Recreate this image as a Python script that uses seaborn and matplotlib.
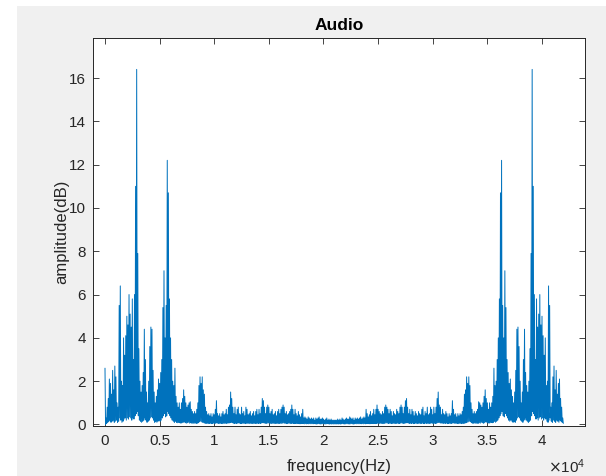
import numpy as np
import pandas as pd
import matplotlib
matplotlib.use("Agg")
import matplotlib.pyplot as plt
import seaborn as sns
from matplotlib.ticker import FuncFormatter
from matplotlib.patches import Rectangle

# ---- data: magnitude spectrum, 100 Hz bins from 0 to 21000 Hz (first half) ----
bin_hz = 100
peak_half = [
    2.6, 0.3, 0.8, 1.2, 2.1, 1.9, 1.4, 2.5, 1.6, 2.7,
    2.2, 1.0, 0.8, 5.5, 6.4, 2.0, 1.8, 4.0, 3.2, 4.1,
    5.0, 4.6, 6.0, 5.1, 4.5, 5.8, 3.0, 6.0, 11.0, 16.4,
    7.9, 3.5, 2.0, 1.5, 1.8, 2.4, 4.4, 3.0, 1.5, 1.0,
    2.0, 3.6, 4.5, 4.4, 2.5, 1.5, 1.0, 1.3, 1.6, 2.1,
    1.9, 2.4, 3.0, 5.4, 7.1, 4.0, 5.5, 12.2, 10.7, 5.8,
    4.0, 3.0, 2.0, 1.8, 2.6, 1.3, 1.0, 0.8, 1.0, 0.7,
    1.0, 1.2, 1.6, 1.3, 1.0, 0.8, 0.9, 1.0, 1.05, 0.7,
    0.6, 0.5, 0.6, 0.5, 0.7, 1.0, 1.8, 2.2, 1.9, 2.2,
    1.6, 1.4, 0.8, 0.6, 0.45, 0.5, 0.4, 0.5, 0.35, 0.5,
    0.45, 0.7, 1.1, 0.5, 0.4, 0.5, 0.35, 0.5, 0.6, 0.45,
    0.5, 0.7, 0.45, 0.8, 0.9, 1.5, 1.2, 0.8, 0.5, 0.8,
    0.45, 0.7, 0.8, 0.5, 0.45, 0.8, 0.5, 0.6, 0.4, 0.8,
    0.7, 0.45, 0.5, 0.6, 0.4, 0.5, 0.6, 0.4, 0.6, 0.7,
    0.45, 0.7, 0.5, 0.8, 1.2, 1.1, 0.8, 0.5, 0.8, 0.9,
    0.8, 0.5, 0.6, 0.7, 0.45, 0.5, 0.6, 0.4, 0.6, 0.7,
    0.5, 0.7, 0.8, 0.9, 0.8, 0.5, 0.6, 0.45, 0.5, 0.6,
    0.7, 0.9, 0.7, 0.45, 0.7, 0.5, 0.4, 0.6, 0.45, 0.35,
    0.5, 0.7, 0.3, 0.35, 0.3, 0.25, 0.35, 0.3, 0.25, 0.3,
    0.25, 0.3, 0.2, 0.3, 0.25, 0.3, 0.35, 0.25, 0.25, 0.3,
    0.25, 0.2, 0.25, 0.3, 0.2, 0.25, 0.2, 0.25, 0.2, 0.2, 0.2,
]
trough_half = [
    0.0, 0.05, 0.1, 0.15, 0.2, 0.1, 0.15, 0.2, 0.1, 0.15,
    0.2, 0.1, 0.15, 0.3, 0.2, 0.1, 0.15, 0.25, 0.3, 0.2,
    0.3, 0.25, 0.35, 0.3, 0.2, 0.3, 0.25, 0.4, 0.5, 0.6,
    0.4, 0.2, 0.15, 0.1, 0.15, 0.2, 0.3, 0.2, 0.1, 0.15,
    0.2, 0.3, 0.35, 0.3, 0.2, 0.1, 0.15, 0.1, 0.15, 0.2,
    0.15, 0.2, 0.3, 0.4, 0.5, 0.35, 0.4, 0.6, 0.5, 0.4,
    0.3, 0.2, 0.15, 0.1, 0.15, 0.1, 0.08, 0.1, 0.08, 0.06,
    0.08, 0.1, 0.12, 0.08, 0.06, 0.08, 0.1, 0.06, 0.08, 0.05,
    0.06, 0.05, 0.07, 0.05, 0.06, 0.08, 0.12, 0.15, 0.12, 0.1,
    0.08, 0.06, 0.05, 0.06, 0.04, 0.05, 0.06, 0.04, 0.05, 0.06,
    0.05, 0.06, 0.08, 0.05, 0.04, 0.06, 0.05, 0.04, 0.06, 0.05,
    0.06, 0.05, 0.07, 0.06, 0.08, 0.1, 0.08, 0.06, 0.05, 0.06,
    0.05, 0.06, 0.07, 0.05, 0.04, 0.06, 0.05, 0.06, 0.04, 0.05,
    0.06, 0.05, 0.04, 0.06, 0.05, 0.04, 0.06, 0.05, 0.04, 0.06,
    0.05, 0.06, 0.05, 0.07, 0.08, 0.07, 0.06, 0.05, 0.06, 0.07,
    0.06, 0.05, 0.04, 0.06, 0.05, 0.04, 0.05, 0.06, 0.04, 0.05,
    0.06, 0.05, 0.06, 0.07, 0.06, 0.05, 0.04, 0.05, 0.06, 0.04,
    0.05, 0.06, 0.05, 0.04, 0.05, 0.04, 0.05, 0.04, 0.03, 0.04,
    0.05, 0.04, 0.03, 0.04, 0.03, 0.04, 0.03, 0.04, 0.03, 0.04,
    0.03, 0.04, 0.03, 0.02, 0.03, 0.04, 0.03, 0.02, 0.03, 0.04,
    0.03, 0.02, 0.03, 0.04, 0.03, 0.02, 0.03, 0.02, 0.03, 0.02, 0.03,
]
x_ticks = [0, 5000, 10000, 15000, 20000, 25000, 30000, 35000, 40000]
y_ticks = [0, 2, 4, 6, 8, 10, 12, 14, 16]

# full spectrum of a real signal: second half mirrors the first (|X[k]| = |X[N-k]|)
peak_full = peak_half + peak_half[-2:0:-1]
trough_full = trough_half + trough_half[-2:0:-1]
n_bins = len(peak_full)
freq = []
amp = []
for k in range(n_bins):
    freq.append(k * bin_hz)
    amp.append(peak_full[k])
    freq.append(k * bin_hz + bin_hz / 2)
    amp.append(trough_full[k])
df = pd.DataFrame({"frequency": freq, "amplitude": amp})

# ---- figure ----
sns.set_theme(style="white")
plt.rcParams["font.family"] = ["Liberation Sans", "DejaVu Sans"]
txt = "#262626"

fig = plt.figure(figsize=(6.06, 4.76), dpi=100, facecolor="#f0f0f0")
# white screenshot margin at top and left
fig.patches.append(Rectangle((0, 0), 17 / 606, 1, transform=fig.transFigure,
                             facecolor="white", edgecolor="none", zorder=-10))
fig.patches.append(Rectangle((0, 1 - 6 / 476), 1, 6 / 476, transform=fig.transFigure,
                             facecolor="white", edgecolor="none", zorder=-10))

ax = fig.add_axes([93 / 606, 1 - 426 / 476, (585 - 93) / 606, (426 - 38) / 476])
ax.set_facecolor("white")

sns.lineplot(data=df, x="frequency", y="amplitude", ax=ax, sort=False,
             estimator=None, color="#0072BD", linewidth=0.7)

ax.set_xlim(-1098, 43936)
ax.set_ylim(-0.07, 17.85)
ax.set_xticks(x_ticks)
ax.set_yticks(y_ticks)
ax.xaxis.set_major_formatter(FuncFormatter(lambda v, p: f"{v / 1e4:g}"))
ax.tick_params(direction="in", length=4, width=0.6, colors=txt, labelsize=11,
               top=True, right=True, bottom=True, left=True,
               labeltop=False, labelright=False)
ax.tick_params(axis="x", pad=6)
ax.tick_params(axis="y", pad=5)
for s in ax.spines.values():
    s.set_visible(True)
    s.set_color(txt)
    s.set_linewidth(0.7)

ax.set_title("Audio", fontsize=12.5, fontweight="bold", color="black", pad=6)
ax.set_xlabel("frequency(Hz)", fontsize=12, color=txt, labelpad=8)
ax.set_ylabel("amplitude(dB)", fontsize=12, color=txt, labelpad=0)
fig.text(585 / 606, 1 - 473 / 476, r"$\times\mathregular{10^4}$",
         ha="right", va="baseline", fontsize=11, color=txt)

fig.savefig("out.png", dpi=100, facecolor=fig.get_facecolor())
